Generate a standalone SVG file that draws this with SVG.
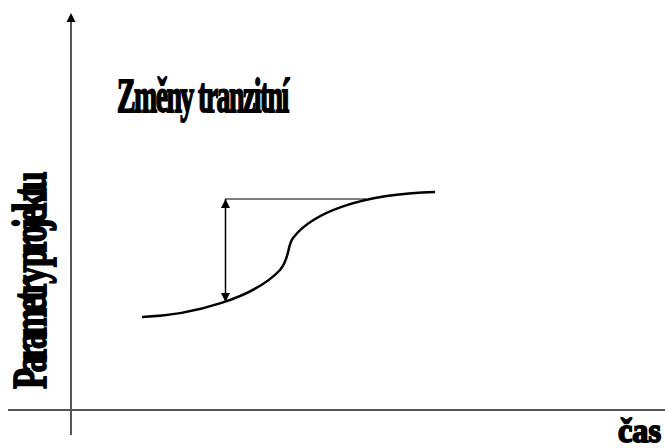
<svg xmlns="http://www.w3.org/2000/svg" width="665" height="448" viewBox="0 0 665 448">
<style>
.axis{stroke:#555;stroke-width:2;fill:none}
.t{font-family:"Liberation Serif","Times New Roman",serif;font-weight:bold;fill:#000;stroke:#000;stroke-width:1.8}
</style>
<defs>
<marker id="ahs" markerWidth="10" markerHeight="10" refX="9" refY="4.5" orient="auto-start-reverse" markerUnits="userSpaceOnUse">
<path d="M0,0 L9,4.5 L0,9 Z" fill="#000"/>
</marker>
</defs>
<rect width="665" height="448" fill="#fff"/>
<g id="connectors">
<line class="axis" x1="8" y1="410" x2="665" y2="410"/>
<line class="axis" x1="71" y1="435" x2="71" y2="22"/>
<path d="M66.5,22 L71,13 L75.5,22 Z" fill="#000"/>
<line x1="225" y1="199" x2="366" y2="199" stroke="#000" stroke-width="1"/>
<line x1="225.5" y1="199" x2="225.5" y2="302" stroke="#000" stroke-width="1.5" marker-start="url(#ahs)" marker-end="url(#ahs)"/>
<path d="M142,317 C195,315 255,297 280,270 C290,258 287,246 293,238 C312,213 360,194 435,192" fill="none" stroke="#000" stroke-width="2.5"/>
</g>
<g id="title"><text class="t" transform="translate(117,112) scale(0.58,1)" font-size="48" textLength="297" lengthAdjust="spacing">Změny tranzitní</text></g>
<g id="ylabel"><text class="t" transform="translate(46,389) rotate(-90) scale(0.7,1)" font-size="49" textLength="311" lengthAdjust="spacing">Parametry projektu</text></g>
<g id="xlabel"><text class="t" x="618" y="442" font-size="34" textLength="43" lengthAdjust="spacingAndGlyphs">čas</text></g>
</svg>
